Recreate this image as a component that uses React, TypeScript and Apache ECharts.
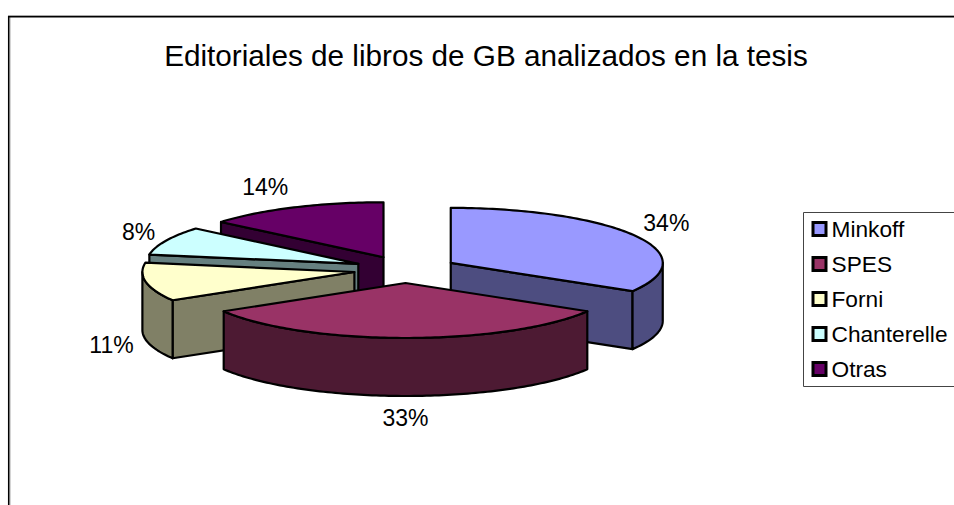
import React, { useEffect, useRef } from "react";
import * as echarts from "echarts";

const titleText = "Editoriales de libros de GB analizados en la tesis";
const categories = ["Minkoff", "SPES", "Forni", "Chanterelle", "Otras"];
const shares = [33.6, 32.8, 11.3, 8.4, 13.9];

const topColors = ["#9999FF", "#993366", "#FFFFCC", "#CCFFFF", "#660066"];
const sideColors = ["#4D4D80", "#4D1A33", "#808066", "#668080", "#330033"];
const paintOrder = [3, 5, 4, 2, 1];
const labelNudges = [[5, -2], [0, 1], [-5, 1], [0, 0], [-16, -1]];

const CX = 405.5, CY = 269.5, RX = 212, RY = 55, DEPTH = 58, EXPLODE = 52;
const FONT = "Liberation Sans, Arial, sans-serif";

const total = shares.reduce((a, b) => a + b, 0);
const rad = (p: number) => (p / total) * Math.PI * 2;

function arcPts(ax: number, ay: number, a0: number, a1: number, dy = 0) {
  const n = Math.max(2, Math.ceil(Math.abs(a1 - a0) / 0.02));
  const pts: number[][] = [];
  for (let i = 0; i <= n; i++) {
    const t = a0 + ((a1 - a0) * i) / n;
    pts.push([ax + RX * Math.sin(t), ay - RY * Math.cos(t) + dy]);
  }
  return pts;
}

function sliceSeries(idx: number) {
  const before = shares.slice(0, idx).reduce((a, b) => a + b, 0);
  const a0 = rad(before);
  const a1 = rad(before + shares[idx]);
  const mid = (a0 + a1) / 2;
  const ax = CX + EXPLODE * Math.sin(mid);
  const ay = CY - EXPLODE * (RY / RX) * Math.cos(mid);
  const line = { stroke: "#000", lineWidth: 2.2, lineJoin: "round" as const };
  const side = (points: number[][]) => ({
    type: "polygon",
    shape: { points },
    style: { fill: sideColors[idx], ...line },
  });

  return {
    type: "custom",
    name: categories[idx],
    coordinateSystem: "none",
    z: paintOrder[idx] + 2,
    silent: true,
    itemStyle: { color: topColors[idx] },
    data: [shares[idx]],
    renderItem: () => {
      const children: any[] = [];
      // radial walls that face the viewer
      for (const a of [a0, a1]) {
        const faces = (a === a0 ? -1 : 1) * Math.sin(a);
        if (faces > 0) {
          const ox = ax + RX * Math.sin(a);
          const oy = ay - RY * Math.cos(a);
          children.push(side([[ax, ay], [ox, oy], [ox, oy + DEPTH], [ax, ay + DEPTH]]));
        }
      }
      // outer rim (only the part that faces the viewer)
      const r0 = Math.max(a0, Math.PI / 2);
      const r1 = Math.min(a1, (3 * Math.PI) / 2);
      if (r1 > r0) {
        children.push(side([...arcPts(ax, ay, r0, r1), ...arcPts(ax, ay, r1, r0, DEPTH)]));
      }
      // top face
      children.push({
        type: "polygon",
        shape: { points: [[ax, ay], ...arcPts(ax, ay, a0, a1)] },
        style: { fill: topColors[idx], ...line },
      });
      // percentage label
      const lower = Math.cos(mid) < 0;
      const nudge = labelNudges[idx];
      children.push({
        type: "text",
        style: {
          text: `${Math.round(shares[idx])}%`,
          x: ax + (RX + 30) * Math.sin(mid) + nudge[0],
          y: ay - (RY + 21) * Math.cos(mid) + (lower ? DEPTH : 0) + nudge[1],
          align: "center",
          verticalAlign: "middle",
          font: `23px ${FONT}`,
          fill: "#000",
        },
      });
      return { type: "group", children };
    },
  };
}

export default function App() {
  const ref = useRef<HTMLDivElement>(null);
  useEffect(() => {
    const chart = echarts.init(ref.current!, null, { renderer: "svg" });
    chart.setOption({
      animation: false,
      backgroundColor: "#fff",
      title: {
        text: titleText,
        left: 481,
        top: 35,
        textAlign: "center",
        textStyle: { fontFamily: FONT, fontSize: 29.7, fontWeight: "normal", color: "#000" },
      },
      legend: {
        data: categories,
        orient: "vertical",
        left: 803.5,
        top: 212.5,
        padding: [5, 8, 6, 8],
        itemWidth: 13,
        itemHeight: 13,
        itemGap: 12,
        icon: "rect",
        selectedMode: false,
        borderColor: "#444",
        borderWidth: 1,
        backgroundColor: "#fff",
        itemStyle: { borderColor: "#000", borderWidth: 3, borderJoin: "miter", borderType: "solid" },
        textStyle: { fontFamily: FONT, fontSize: 22.7, color: "#000", width: 140, padding: [0, 0, 0, 0.5] },
      },
      graphic: [
        { type: "line", silent: true, shape: { x1: 10, y1: 16, x2: 10, y2: 505 }, style: { stroke: "#aaa", lineWidth: 1 } },
        { type: "line", silent: true, shape: { x1: 8, y1: 15.5, x2: 954, y2: 15.5 }, style: { stroke: "#aaa", lineWidth: 1 } },
        { type: "line", silent: true, shape: { x1: 8.7, y1: 16, x2: 8.7, y2: 505 }, style: { stroke: "#000", lineWidth: 1.5 } },
        { type: "line", silent: true, shape: { x1: 8, y1: 16.7, x2: 954, y2: 16.7 }, style: { stroke: "#000", lineWidth: 1.5 } },
      ],
      series: categories.map((_, i) => sliceSeries(i)),
    });
    return () => chart.dispose();
  }, []);
  return <div ref={ref} style={{ position: "absolute", left: 0, top: 0, width: 954, height: 505 }} />;
}
